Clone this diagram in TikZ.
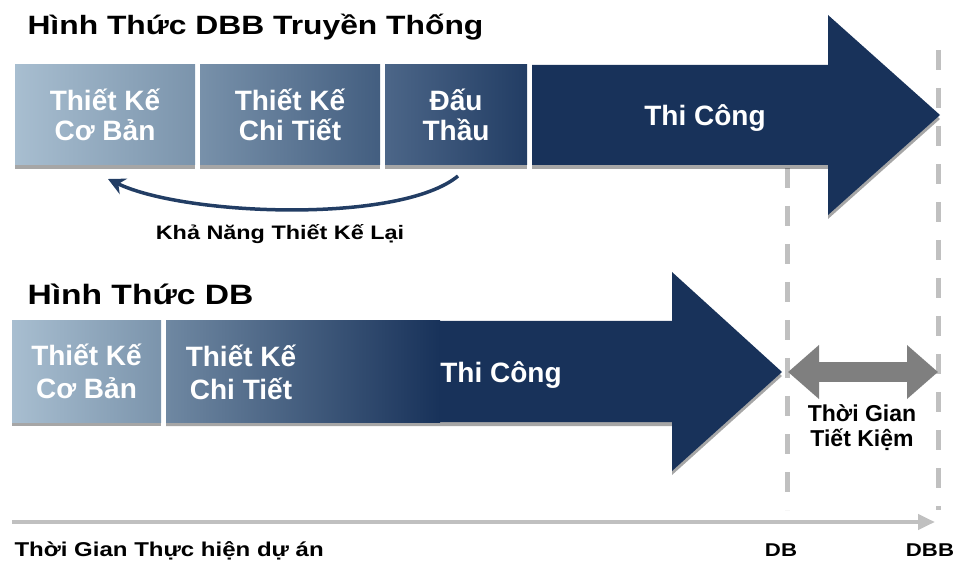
\documentclass[tikz,border=0pt]{standalone}
\usepackage{fontspec}
\setmainfont{Liberation Sans}
\newfontfamily\widesans{Liberation Sans}[FakeStretch=1.2]
\usetikzlibrary{arrows.meta,shadows}
\definecolor{navy}{HTML}{18325A}
\definecolor{paleA}{HTML}{A8BED0}
\definecolor{paleB}{HTML}{7B94AC}
\definecolor{midA}{HTML}{7891AA}
\definecolor{midB}{HTML}{435E80}
\definecolor{deepA}{HTML}{4C6688}
\definecolor{deepB}{HTML}{223D64}
\definecolor{fadeA}{HTML}{6F88A2}
\definecolor{guidegray}{HTML}{C0C0C0}
\definecolor{savegray}{HTML}{7F7F7F}
\tikzset{
  softshadow/.style={drop shadow={shadow xshift=0pt,shadow yshift=-4pt,opacity=.35,fill=black}},
  phase/.style={minimum height=100pt,inner sep=0pt,softshadow},
  phasetext/.style={text=white,align=center,font=\bfseries\fontsize{28}{30}\selectfont},
  heading/.style={anchor=base west,font=\widesans\bfseries\fontsize{27}{30}\selectfont},
  smalltext/.style={font=\widesans\bfseries\fontsize{19.5}{22}\selectfont},
  guide/.style={guidegray,line width=5pt,dash pattern=on 20pt off 18pt},
}
\begin{document}
\begin{tikzpicture}[x=1pt,y=-1pt]
\useasboundingbox (0,0) rectangle (967,561);
% time guides
\draw[guide] (787,168) coordinate (db-top) -- (787,510) coordinate (db-bot);
\draw[guide] (938,50) coordinate (dbb-top) -- (938,510) coordinate (dbb-bot);
\coordinate (time-a) at (12,522);
\coordinate (time-b) at (935,522);
\draw[guidegray,line width=4.5pt,-{Triangle[length=17pt,width=15pt]}] (time-a) -- (time-b);

% DBB row
\node[heading,font=\widesans\bfseries\fontsize{26.5}{30}\selectfont] (dbb-title) at (24,35) {Hình Thức DBB Truyền Thống};
\node[phase,minimum width=180pt,left color=paleA,right color=paleB] (dbb-basic) at (105,115) {};
\node[phase,minimum width=180pt,left color=midA,right color=midB] (dbb-detail) at (290,115) {};
\node[phase,minimum width=142pt,left color=deepA,right color=deepB] (dbb-bid) at (456,115) {};
\fill[navy,softshadow] (532,65) -- (828,65) -- (828,15) -- (940,115) -- (828,215) -- (828,165) -- (532,165) -- cycle;
\node[phasetext] (dbb-basic-t) at (dbb-basic) {Thiết Kế\\Cơ Bản};
\node[phasetext] (dbb-detail-t) at (dbb-detail) {Thiết Kế\\Chi Tiết};
\node[phasetext] (dbb-bid-t) at (dbb-bid) {Đấu\\Thầu};
\node[phasetext,anchor=base] (dbb-build) at (705,126) {Thi Công};

% redesign loop
\coordinate (redo-a) at (458,176);
\coordinate (redo-b) at (108,179);
\draw[deepB,line width=3.5pt,-{Stealth[length=17pt,width=17pt]}] (redo-a) .. controls (400,224) and (185,216) .. (redo-b);
\node[smalltext,anchor=base] (redo) at (280,240) {Khả Năng Thiết Kế Lại};

% DB row
\node[heading,font=\widesans\bfseries\fontsize{28}{30}\selectfont] (db-title) at (24,305) {Hình Thức DB};
\node[phase,minimum width=149pt,minimum height=101pt,left color=paleA,right color=paleB] (db-basic) at (86.5,371.5) {};
\fill[navy,softshadow] (166,321) -- (672,321) -- (672,272) -- (782,372) -- (672,471) -- (672,422) -- (166,422) -- cycle;
\shade[left color=fadeA,right color=navy] (166,321) rectangle (440,422);
\node[phasetext,font=\bfseries\fontsize{28}{33}\selectfont] (db-basic-t) at (db-basic) {Thiết Kế\\Cơ Bản};
\node[phasetext,font=\bfseries\fontsize{28}{33}\selectfont] (db-detail-t) at (241,372) {Thiết Kế\\Chi Tiết};
\node[phasetext,anchor=base] (db-build) at (501,382) {Thi Công};

% saved time
\coordinate (save-a) at (788,372);
\coordinate (save-b) at (938,372);
\draw[savegray,line width=20pt,{Triangle[length=31pt,width=52pt]}-{Triangle[length=31pt,width=52pt]}] (save-a) -- (save-b);
\node[align=center,font=\bfseries\fontsize{23}{25}\selectfont] (saved) at (862,428) {Thời Gian\\Tiết Kiệm};

% time axis labels
\node[anchor=base west,font=\widesans\bfseries\fontsize{20}{22}\selectfont] (axis) at (11,556) {Thời Gian Thực hiện dự án};
\node[anchor=base,font=\widesans\bfseries\fontsize{18.5}{22}\selectfont] (db-mark) at (781,556) {DB};
\node[anchor=base,font=\widesans\bfseries\fontsize{18.5}{22}\selectfont] (dbb-mark) at (930,556) {DBB};
\end{tikzpicture}
\end{document}
